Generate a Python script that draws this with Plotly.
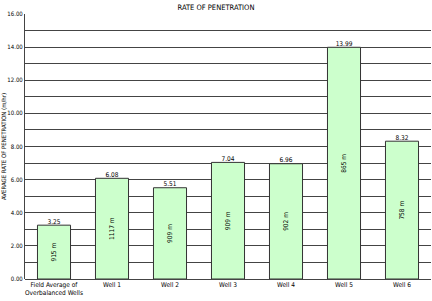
import plotly.graph_objects as go

categories = ["Field Average of<br>Overbalanced Wells", "Well 1", "Well 2", "Well 3", "Well 4", "Well 5", "Well 6"]
rop = [3.25, 6.08, 5.51, 7.04, 6.96, 13.99, 8.32]
depth_labels = ["915 m", "1117 m", "909 m", "909 m", "902 m", "865 m", "758 m"]
tick_vals = [0, 2, 4, 6, 8, 10, 12, 14, 16]

FONT = "DejaVu Sans Condensed, Liberation Sans Narrow, Arial Narrow, sans-serif"

fig = go.Figure()
fig.add_trace(go.Bar(
    x=categories, y=rop,
    marker=dict(color="#ccffcc", line=dict(color="#333333", width=1)),
    width=0.57,
    text=depth_labels, textposition="inside", insidetextanchor="middle",
    textangle=-90, textfont=dict(family=FONT, size=6.5, color="#000000"),
    hoverinfo="skip",
))
fig.add_trace(go.Scatter(
    x=categories, y=rop, mode="text",
    text=[f"{v:.2f}" for v in rop], textposition="top center",
    textfont=dict(family=FONT, size=6.5, color="#000000"),
    hoverinfo="skip",
))

fig.update_layout(
    width=432, height=301,
    margin=dict(l=23, r=1, t=14, b=22),
    paper_bgcolor="white", plot_bgcolor="white",
    showlegend=False,
    font=dict(family=FONT, size=6.5, color="#000000"),
    title=dict(text="RATE OF PENETRATION", x=0.5, xanchor="center", y=0.985, yanchor="top",
               font=dict(family=FONT, size=7.5, color="#000000")),
    xaxis=dict(showgrid=False, showline=False, ticks="", tickfont=dict(family=FONT, size=6.5),
               fixedrange=True),
    yaxis=dict(range=[0, 16], tickvals=list(range(0, 17)),
               ticktext=[f"{v:.2f}" if v in tick_vals else "" for v in range(0, 17)],
               showgrid=True, gridcolor="#444444", gridwidth=1,
               showline=True, linecolor="#444444", linewidth=1,
               zeroline=True, zerolinecolor="#444444", zerolinewidth=1,
               tickfont=dict(family=FONT, size=6), ticks="", ticklen=0,
               title=dict(text="AVERAGE RATE OF PENETRATION (m/hr)", standoff=2,
                          font=dict(family=FONT, size=6))),
)

fig.write_html("out.html")
